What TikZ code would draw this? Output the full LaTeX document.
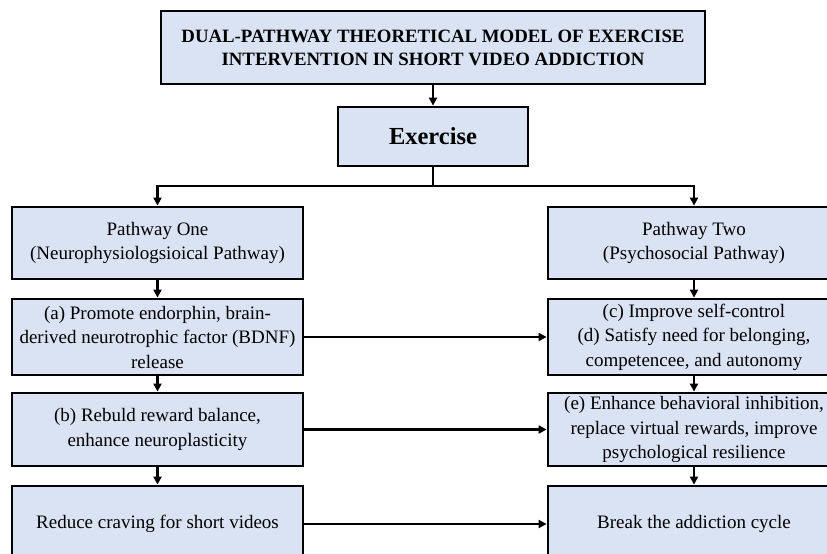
\documentclass[tikz,border=0pt]{standalone}
\usepackage{fontspec}
\setmainfont{Liberation Serif}
\usetikzlibrary{arrows.meta}
\definecolor{boxfill}{HTML}{DAE3F3}
\begin{document}
\begin{tikzpicture}[x=1pt,y=-1pt,
  box/.style={draw=black, fill=boxfill, line width=2.8pt, align=center,
    inner sep=0pt, font=\fontsize{19}{24.5}\selectfont},
  colbox/.style={box, minimum width=291pt},
  arr/.style={line width=2.2pt, -{Triangle[length=8pt,width=8pt]}},
  ln/.style={line width=2.2pt}]
\useasboundingbox (0,0) rectangle (827,554);
\clip (0,0) rectangle (827,554);
\fill[white] (0,0) rectangle (827,554);

\node[box, minimum width=544pt, minimum height=73pt,
  font=\bfseries\fontsize{18.8}{23}\selectfont] (title) at (433,47.5)
  {DUAL-PATHWAY THEORETICAL MODEL OF EXERCISE\\INTERVENTION IN SHORT VIDEO ADDICTION};
\node[box, minimum width=190pt, minimum height=59pt,
  font=\bfseries\fontsize{24.5}{28}\selectfont] (ex) at (433,136.5) {Exercise};

\node[colbox, minimum height=72pt] (p1) at (157.5,243)
  {Pathway One\\(Neurophysiologsioical Pathway)};
\node[colbox, minimum height=76pt] (a) at (157.5,337)
  {(a) Promote endorphin, brain-\\derived neurotrophic factor (BDNF)\\release};
\node[colbox, minimum height=73pt] (b) at (157.5,429.5)
  {(b) Rebuld reward balance,\\enhance neuroplasticity};
\node[colbox, minimum height=76pt] (rc) at (157.5,524)
  {Reduce craving for short videos};

\node[colbox, minimum width=292pt, minimum height=72pt] (p2) at (694,243)
  {Pathway Two\\(Psychosocial Pathway)};
\node[colbox, minimum width=292pt, minimum height=76pt] (cd) at (694,337)
  {(c) Improve self-control\\(d) Satisfy need for belonging,\\competencee, and autonomy};
\node[colbox, minimum width=292pt, minimum height=73pt] (e) at (694,429.5)
  {(e) Enhance behavioral inhibition,\\replace virtual rewards, improve\\psychological resilience};
\node[colbox, minimum width=292pt, minimum height=76pt] (bk) at (694,524)
  {Break the addiction cycle};

\draw[arr] (title.south) -- (ex.north);
\coordinate (split) at (433,186);
\draw[ln] (ex.south) -- (split);
\draw[arr] (split) -| (p1.north);
\draw[arr] (split) -| (p2.north);

\draw[arr] (p1.south) -- (a.north);
\draw[arr] (a.south) -- (b.north);
\draw[arr] (b.south) -- (rc.north);
\draw[arr] (p2.south) -- (cd.north);
\draw[arr] (cd.south) -- (e.north);
\draw[arr] (e.south) -- (bk.north);

\draw[arr] (a.east) -- (cd.west);
\draw[arr] (b.east) -- (e.west);
\draw[arr] (rc.east) -- (bk.west);
\end{tikzpicture}
\end{document}
